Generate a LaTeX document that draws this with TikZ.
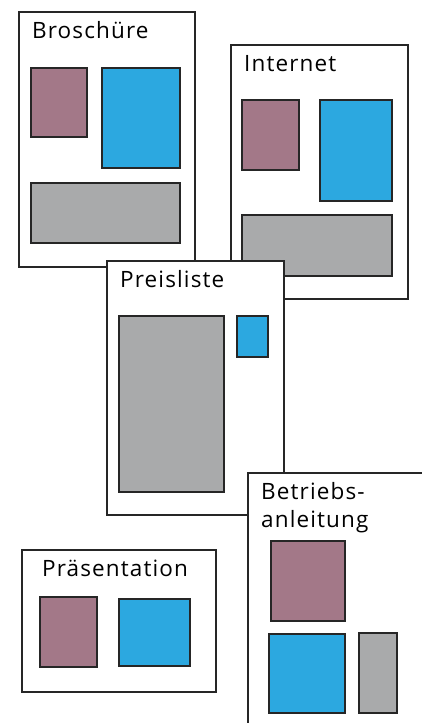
\documentclass[tikz,border=0pt]{standalone}
\usepackage{fontspec}
\setmainfont{Open Sans}[LetterSpace=5]
\definecolor{mauve}{HTML}{A37888}
\definecolor{skyblue}{HTML}{2CA8E0}
\definecolor{stone}{HTML}{A9AAAB}
\tikzset{
	page/.style={draw=black!85, fill=white, line width=1.4pt},
	block/.style={draw=black!85, line width=1.4pt},
	title/.style={anchor=base west, inner sep=0pt, font=\fontsize{22.5}{28}\selectfont}
}
\begin{document}
\begin{tikzpicture}[x=1pt, y=-1pt]
		\clip (0,0) rectangle (422,723);
		\fill[white] (0,0) rectangle (422,723);
		% Broschuere
		\draw[page] (19,12) rectangle (195,267);
		\node[title] (broschuere) at (32,38) {Broschüre};
		\draw[block, fill=mauve] (31,68) rectangle (87,137);
		\draw[block, fill=skyblue] (102,68) rectangle (180,168);
		\draw[block, fill=stone] (31,183) rectangle (180,243);
		% Internet
		\draw[page] (231,45) rectangle (408,299);
		\node[title] (internet) at (244,71) {Internet};
		\draw[block, fill=mauve] (242,100) rectangle (299,170);
		\draw[block, fill=skyblue] (320,100) rectangle (392,201);
		\draw[block, fill=stone] (242,215) rectangle (392,276);
		% Preisliste
		\draw[page] (107,261) rectangle (284,515);
		\node[title] (preisliste) at (120,287) {Preisliste};
		\draw[block, fill=stone] (119,316) rectangle (224,492);
		\draw[block, fill=skyblue] (237,316) rectangle (268,357);
		% Betriebsanleitung
		\draw[page] (248,473) rectangle (440,740);
		\node[title, align=left] (betrieb) at (261,527) {Betriebs-\\anleitung};
		\draw[block, fill=mauve] (271,541) rectangle (345,621);
		\draw[block, fill=skyblue] (269,634) rectangle (345,713);
		\draw[block, fill=stone] (359,633) rectangle (397,713);
		% Praesentation
		\draw[page] (22,550) rectangle (216,692);
		\node[title] (praesentation) at (42,576) {Präsentation};
		\draw[block, fill=mauve] (40,597) rectangle (97,667);
		\draw[block, fill=skyblue] (119,599) rectangle (190,666);
\end{tikzpicture}
\end{document}
